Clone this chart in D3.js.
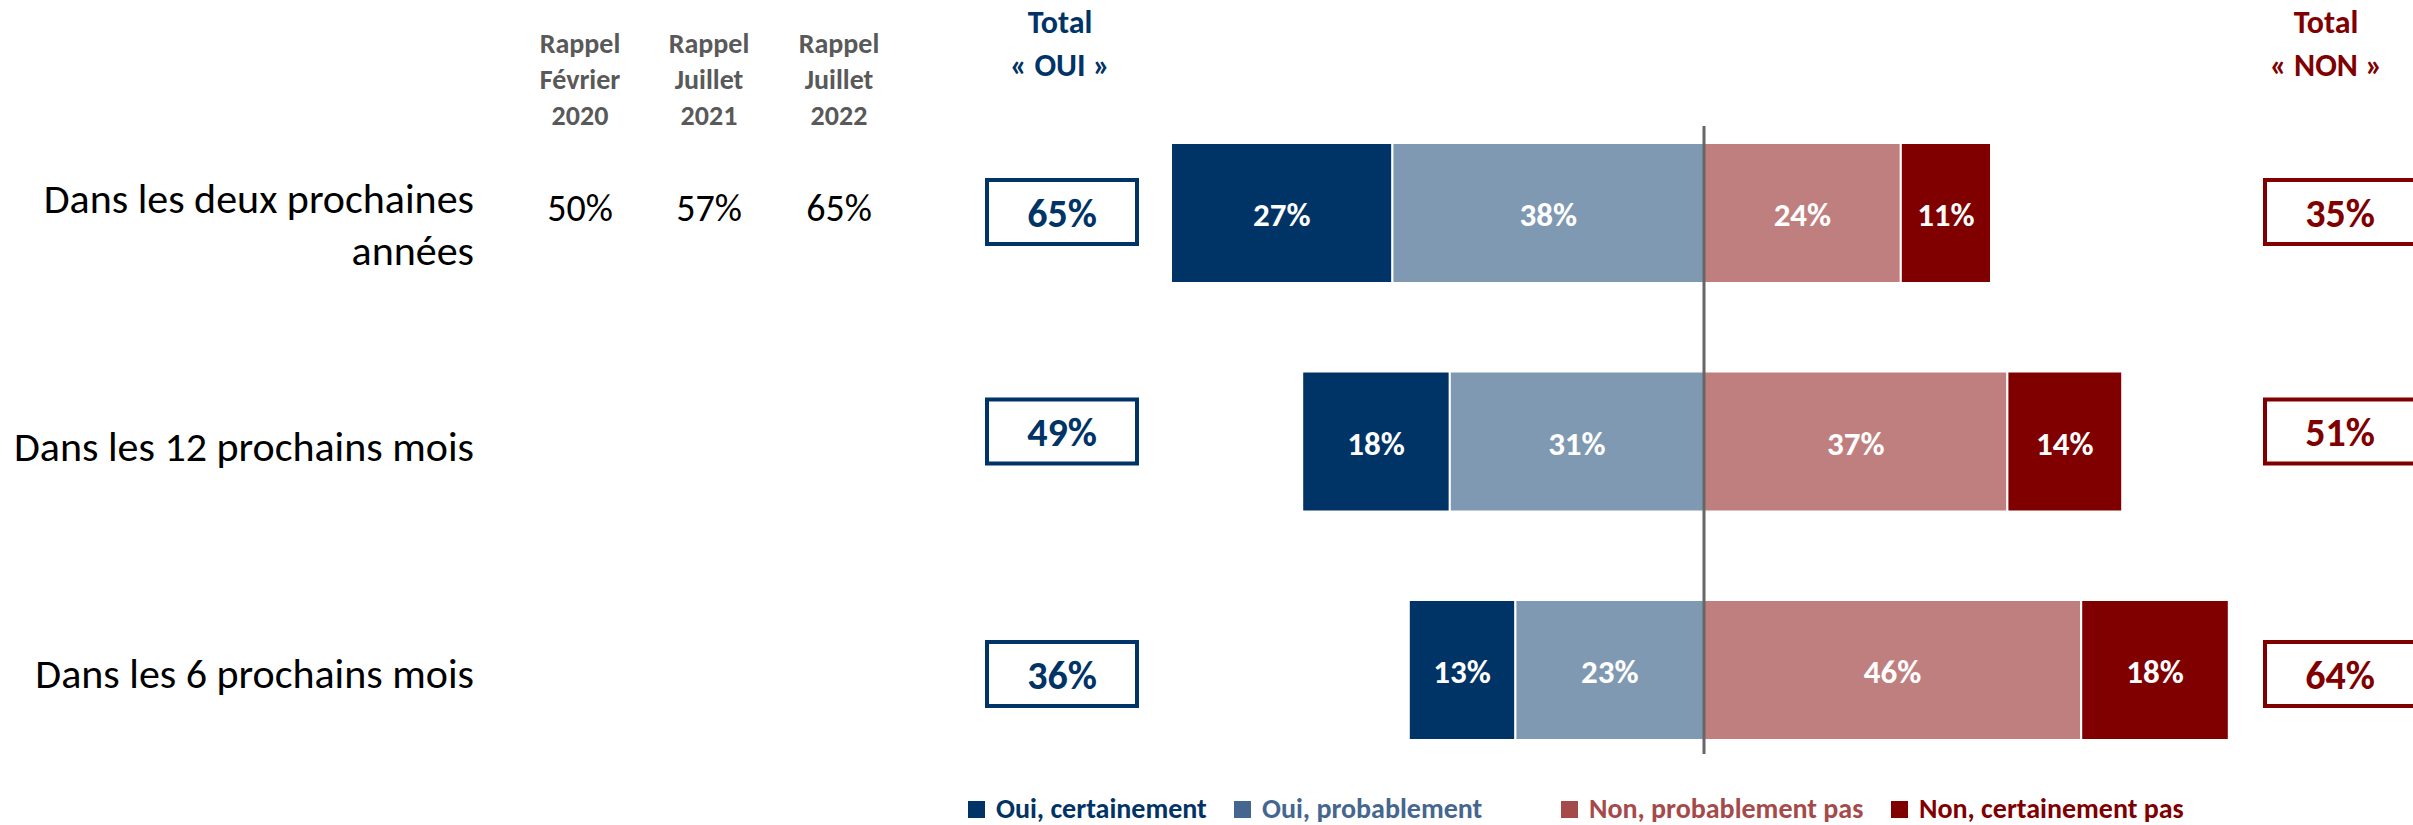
<!DOCTYPE HTML>
<html>
<head>
<meta charset="utf-8">
<title>Intentions - oui / non</title>
<script src="https://cdn.jsdelivr.net/npm/d3@7"></script>
<style>
	body { margin: 0; background: #fff; }
	text { font-family: Carlito, Calibri, "Liberation Sans Narrow", "DejaVu Sans Condensed", sans-serif; }
</style>
</head>
<body>
<script type="text/javascript">
// donnees
var categories = ["Dans les deux prochaines années", "Dans les 12 prochains mois", "Dans les 6 prochains mois"];
var categoryLines = [["Dans les deux prochaines", "années"], ["Dans les 12 prochains mois"], ["Dans les 6 prochains mois"]];
var rappelHeaders = [["Rappel", "Février", "2020"], ["Rappel", "Juillet", "2021"], ["Rappel", "Juillet", "2022"]];
var rappelValues = [["50%", "57%", "65%"], [], []];
var ouiCertainement = [27, 18, 13];
var ouiProbablement = [38, 31, 23];
var nonProbablement = [24, 37, 46];
var nonCertainement = [11, 14, 18];
var totalOui = [65, 49, 36];
var totalNon = [35, 51, 64];
var seriesNames = ["Oui, certainement", "Oui, probablement", "Non, probablement pas", "Non, certainement pas"];

var navy = "#003366", darkRed = "#800000";
var barColors = ["#003366", "#7f99b2", "#bf7f7f", "#800000"];
var legendColors = ["#003366", "#45678f", "#a54a4a", "#800000"];

var width = 2413, height = 825;
var svg = d3.select("body").append("svg")
	.attr("width", width)
	.attr("height", height);

var x = d3.scaleLinear().domain([-100, 100]).range([1704 - 820, 1704 + 820]);
var y = d3.scalePoint().domain(categories).range([213, 670]);
var barH = 140;
var boxOffset = [-1, -10, 4];   // petits decalages des cadres totaux
var labelOffset = [12, 5, 4];

// segments : gauche = oui (negatif), droite = non
var rows = categories.map(function(c, i){
	var segs = [];
	var x0 = -totalOui[i];
	[ouiCertainement[i], ouiProbablement[i]].forEach(function(v, k){
		segs.push({cat: c, v: v, s: x0, e: x0 + v, k: k});
		x0 += v;
	});
	x0 = 0;
	[nonProbablement[i], nonCertainement[i]].forEach(function(v, k){
		segs.push({cat: c, v: v, s: x0, e: x0 + v, k: k + 2});
		x0 += v;
	});
	return segs;
});
var allSegs = [].concat.apply([], rows);

var bars = svg.append("g");
bars.selectAll("rect")
	.data(allSegs)
	.enter()
	.append("rect")
	.attr("x", function(d){ return x(d.s); })
	.attr("y", function(d){ return y(d.cat) - barH/2; })
	.attr("width", function(d){ return x(d.e) - x(d.s); })
	.attr("height", barH)
	.attr("fill", function(d){ return barColors[d.k]; })
	.attr("stroke", "#fff")
	.attr("stroke-width", 2);

bars.selectAll("text")
	.data(allSegs)
	.enter()
	.append("text")
	.attr("x", function(d){ return (x(d.s) + x(d.e))/2; })
	.attr("y", function(d){ return y(d.cat) + 2; })
	.attr("text-anchor", "middle")
	.attr("dominant-baseline", "central")
	.attr("fill", "#fff")
	.attr("font-weight", "bold")
	.attr("font-size", 33)
	.text(function(d){ return d.v + "%"; });

// ligne centrale
svg.append("line")
	.attr("x1", x(0)).attr("x2", x(0))
	.attr("y1", 126).attr("y2", 754)
	.attr("stroke", "#666")
	.attr("stroke-width", 3);

// libelles des categories
categories.forEach(function(c, i){
	var lines = categoryLines[i];
	var t = svg.append("text")
		.attr("text-anchor", "end")
		.attr("font-size", 42)
		.attr("fill", "#000");
	var top = y(c) + labelOffset[i] + 14 - (lines.length - 1) * 26;
	lines.forEach(function(l, j){
		t.append("tspan")
			.attr("x", 474)
			.attr("y", top + j * 52)
			.text(l);
	});
});

// colonnes rappel
var rappelX = [580, 709, 839];
rappelHeaders.forEach(function(h, k){
	var t = svg.append("text")
		.attr("text-anchor", "middle")
		.attr("font-size", 28)
		.attr("font-weight", "bold")
		.attr("fill", "#595959");
	h.forEach(function(l, j){
		t.append("tspan").attr("x", rappelX[k]).attr("y", 53 + j * 36).text(l);
	});
});
rappelValues.forEach(function(vals, i){
	vals.forEach(function(v, k){
		svg.append("text")
			.attr("x", rappelX[k])
			.attr("y", y(categories[i]) + 8)
			.attr("text-anchor", "middle")
			.attr("font-size", 38)
			.attr("fill", "#000")
			.text(v);
	});
});

// totaux
function totalHeader(cx, color, word){
	var t = svg.append("text")
		.attr("text-anchor", "middle")
		.attr("font-size", 32)
		.attr("font-weight", "bold")
		.attr("fill", color);
	t.append("tspan").attr("x", cx).attr("y", 33).text("Total");
	t.append("tspan").attr("x", cx).attr("y", 76).text("\u00ab " + word + " \u00bb");
}
totalHeader(1060, navy, "OUI");
totalHeader(2326, darkRed, "NON");

function totalBoxes(vals, bx, color){
	var g = svg.append("g");
	g.selectAll("rect")
		.data(vals)
		.enter()
		.append("rect")
		.attr("x", bx)
		.attr("y", function(d, i){ return y(categories[i]) + boxOffset[i] - 32; })
		.attr("width", 150)
		.attr("height", 64)
		.attr("fill", "#fff")
		.attr("stroke", color)
		.attr("stroke-width", 4);
	g.selectAll("text")
		.data(vals)
		.enter()
		.append("text")
		.attr("x", bx + 75)
		.attr("y", function(d, i){ return y(categories[i]) + boxOffset[i] + 1; })
		.attr("text-anchor", "middle")
		.attr("dominant-baseline", "central")
		.attr("font-size", 40)
		.attr("font-weight", "bold")
		.attr("fill", color)
		.text(function(d){ return d + "%"; });
}
totalBoxes(totalOui, 987, navy);
totalBoxes(totalNon, 2265, darkRed);

// legende
var legendX = [968, 1234, 1561, 1891];
var legend = svg.append("g");
seriesNames.forEach(function(n, k){
	legend.append("rect")
		.attr("x", legendX[k]).attr("y", 801)
		.attr("width", 17).attr("height", 17)
		.attr("fill", legendColors[k]);
	legend.append("text")
		.attr("x", legendX[k] + 28).attr("y", 818)
		.attr("font-size", 28)
		.attr("font-weight", "bold")
		.attr("fill", legendColors[k])
		.text(n);
});
</script>
</body>
</html>
